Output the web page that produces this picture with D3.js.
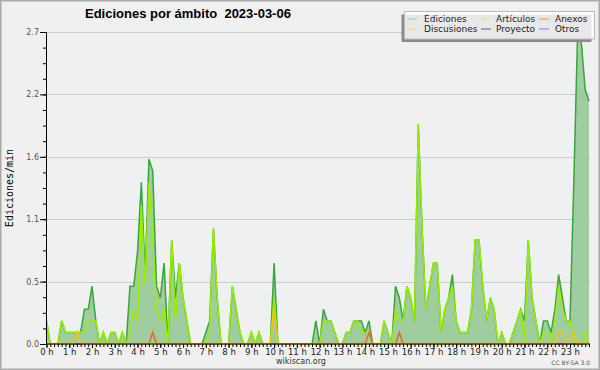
<!DOCTYPE html>
<html>
<head>
<meta charset="utf-8">
<script src="https://cdnjs.cloudflare.com/ajax/libs/d3/7.8.5/d3.min.js"></script>
<style>
  body { margin: 0; background: #f0f0f0; }
  svg { display: block; font-family: "DejaVu Sans", sans-serif; }
</style>
</head>
<body>
<svg id="chart" width="600" height="370"></svg>
<script>

// 10 minute slots, edits per minute
var hourLabels = ["0 h","1 h","2 h","3 h","4 h","5 h","6 h","7 h","8 h","9 h","10 h","11 h",
                  "12 h","13 h","14 h","15 h","16 h","17 h","18 h","19 h","20 h","21 h","22 h","23 h"];

var yTicks = [0, 0.54, 1.08, 1.62, 2.16, 2.7];

var ediciones = [
  0.2,0,0,0,0.2,0.1,0.1,0.1,0.1,0.1,0.3,0.3,
  0.5,0.2,0,0.1,0,0.1,0.1,0,0.1,0,0.5,0.5,
  0.8,1.4,0.6,1.6,1.5,0.5,0.4,0.7,0,0.9,0.4,0.7,
  0.4,0.2,0,0,0,0,0.1,0.2,1.0,0.4,0,0,
  0,0.5,0.3,0.1,0,0,0.1,0,0.1,0,0,0,
  0.7,0,0,0,0,0,0,0,0,0,0,0.2,
  0,0.3,0.2,0.2,0.1,0,0,0.1,0.1,0.2,0.2,0.2,
  0.1,0.2,0,0,0,0.2,0.1,0,0.5,0.4,0.2,0.5,
  0.4,0.2,1.9,1.0,0.3,0.5,0.7,0.7,0.1,0.3,0.4,0.6,
  0.2,0.1,0.1,0.1,0.3,0.9,0.9,0.5,0.2,0.4,0.3,0,
  0.1,0,0,0.1,0.2,0.3,0.2,0.9,0.4,0.2,0,0.2,
  0.2,0.1,0.3,0.6,0.4,0.2,0.2,1.4,2.7,2.6,2.2,2.1
];

var articulos = [
  0.2,0,0,0,0.2,0.1,0.1,0.1,0.1,0.1,0.1,0.2,
  0.2,0.2,0,0.1,0,0.1,0.1,0,0.1,0,0.1,0.3,
  0.2,1.2,0.5,1.4,0.9,0.3,0.2,0.3,0,0.9,0.2,0.7,
  0.4,0.2,0,0,0,0,0,0.1,1.0,0.4,0,0,
  0,0.5,0.3,0.1,0,0,0.1,0,0.1,0,0,0,
  0.4,0,0,0,0,0,0,0,0,0,0,0,
  0,0.2,0.2,0.2,0.1,0,0,0.1,0.1,0.2,0.2,0.1,
  0.1,0.1,0,0,0,0.2,0.1,0,0.3,0.2,0.2,0.5,
  0.4,0.2,1.9,1.0,0.3,0.5,0.7,0.7,0.1,0.3,0.4,0.5,
  0.2,0.1,0.1,0.1,0.3,0.9,0.9,0.5,0.2,0.4,0.3,0,
  0.1,0,0,0.1,0.2,0.3,0,0.9,0.4,0.2,0,0.1,
  0.1,0,0.2,0.5,0.3,0.2,0.2,0,0,0,0.1,0
];

var anexos = [
  0,0,0,0,0,0,0,0,0,0,0,0,
  0,0,0,0,0,0,0,0,0,0,0,0,
  0,0,0,0,0.1,0,0,0,0,0,0,0,
  0,0,0,0,0,0,0,0,0,0,0,0,
  0,0,0,0,0,0,0,0,0,0,0,0,
  0,0,0,0,0,0,0,0,0,0,0,0,
  0,0,0,0,0,0,0,0,0,0,0,0,
  0,0.1,0,0,0,0,0,0,0,0.1,0,0,
  0,0,0,0,0,0,0,0,0,0,0,0,
  0,0,0,0,0,0,0,0,0,0,0,0,
  0,0,0,0,0,0,0,0,0,0,0,0,
  0,0,0,0,0,0,0,0,0,0,0,0
];

var discusiones = [
  0,0,0,0,0,0,0,0,0.1,0,0,0,
  0,0,0,0,0,0,0,0,0,0,0,0,
  0,0,0,0,0,0,0,0,0,0,0,0,
  0,0,0,0,0,0,0,0,0,0,0,0,
  0,0,0,0,0,0,0,0,0,0,0,0,
  0.3,0,0,0,0,0,0,0,0,0,0,0,
  0,0,0,0,0,0,0,0,0,0,0,0,
  0,0,0,0,0,0,0,0,0,0,0,0,
  0,0,0,0,0,0,0,0,0,0,0,0,
  0,0,0,0,0,0,0,0,0,0,0,0,
  0,0,0,0,0,0,0,0,0,0,0,0,
  0,0,0,0.1,0.1,0,0,0.1,0,0,0,0
];

var legendNames = ["Ediciones", "Artículos", "Anexos", "Discusiones", "Proyecto", "Otros"];
var legendColors = ["#8fd48f", "#cdee66", "#f4906a", "#f8d768", "#606060", "#a86ef0"];

var svg = d3.select('#chart');

var plotLeft = 46, plotRight = 590, plotTop = 32, plotBottom = 344;

var x = d3.scaleLinear().domain([0, ediciones.length - 1]).range([plotLeft + 0.5, plotRight - 1]);
var y = d3.scaleLinear().domain([0, yTicks[yTicks.length - 1]]).range([plotBottom, plotTop]);

// frame
svg.append('rect')
  .attr('x', 0.75).attr('y', 0.75).attr('width', 598.5).attr('height', 368.5)
  .attr('fill', '#f0f0f0').attr('stroke', '#a8a8a8').attr('stroke-width', 1.5);

svg.append('rect')
  .attr('x', plotLeft).attr('y', plotTop).attr('width', plotRight - plotLeft).attr('height', plotBottom - plotTop)
  .attr('fill', '#eff0f2');

// grid
svg.append('g').selectAll('line')
  .data(yTicks.slice(1))
  .enter().append('line')
  .attr('x1', plotLeft).attr('x2', plotRight)
  .attr('y1', function(d){ return Math.round(y(d)) + 0.5; })
  .attr('y2', function(d){ return Math.round(y(d)) + 0.5; })
  .attr('stroke', '#cccccc');

// data
var area = d3.area()
  .x(function(d, i){ return x(i); })
  .y0(y(0))
  .y1(function(d){ return y(d); });

var line = d3.line()
  .x(function(d, i){ return x(i); })
  .y(function(d){ return y(d); });

var plot = svg.append('g');

plot.append('path').datum(ediciones)
  .attr('d', area).attr('fill', '#9fcd9f');

var drawn = [
  {values: ediciones, color: '#3aa63a'},
  {values: articulos, color: '#99ee00'},
  {values: anexos, color: '#ee6622'},
  {values: discusiones, color: '#f5c400'}
];

drawn.forEach(function(s){
  plot.append('path').datum(s.values)
    .attr('d', line)
    .attr('fill', 'none')
    .attr('stroke', s.color)
    .attr('stroke-width', 1.5)
    .attr('stroke-linejoin', 'miter');
});

// axes
var minorY = d3.range(0, 21).map(function(k){ return k * yTicks[1] / 4; });

svg.append('g')
  .attr('transform', 'translate(' + plotLeft + ',0)')
  .call(d3.axisLeft(y).tickValues(minorY).tickSize(3).tickSizeOuter(0).tickFormat(''));

var yAxis = svg.append('g')
  .attr('transform', 'translate(' + plotLeft + ',0)')
  .call(d3.axisLeft(y).tickValues(yTicks).tickSize(6).tickSizeOuter(0).tickPadding(1)
    .tickFormat(d3.format('.1f')));
yAxis.selectAll('text').attr('font-size', 8).attr('fill', '#555').attr('font-family', '"DejaVu Sans"');

svg.append('g')
  .attr('transform', 'translate(0,' + plotBottom + ')')
  .call(d3.axisBottom(x).tickValues(d3.range(0, ediciones.length)).tickSize(3).tickSizeOuter(0).tickFormat(''))
  .select('.domain').attr('d', 'M' + plotLeft + ',0H' + plotRight);

var hourIdx = hourLabels.map(function(d, i){ return i * 6; });
var xAxis = svg.append('g')
  .attr('transform', 'translate(0,' + plotBottom + ')')
  .call(d3.axisBottom(x).tickValues(hourIdx).tickSize(4).tickSizeOuter(0).tickPadding(1)
    .tickFormat(function(d, i){ return hourLabels[i]; }));
xAxis.select('.domain').remove();
xAxis.selectAll('text').attr('font-size', 8.5).attr('fill', '#222').attr('font-family', '"DejaVu Sans"');

// texts
svg.append('text')
  .attr('x', 85).attr('y', 18)
  .style('white-space', 'pre')
  .attr('font-family', '"Liberation Sans", Arial, sans-serif')
  .attr('font-weight', 'bold').attr('font-size', 13)
  .text('Ediciones por ámbito  2023-03-06');

svg.append('text')
  .attr('transform', 'translate(13,188) rotate(-90)')
  .attr('text-anchor', 'middle')
  .attr('font-family', '"DejaVu Sans Mono", monospace')
  .attr('font-size', 10)
  .text('Ediciones/min');

svg.append('text')
  .attr('x', 301).attr('y', 364)
  .attr('text-anchor', 'middle')
  .attr('font-size', 8).attr('fill', '#333')
  .text('wikiscan.org');

svg.append('text')
  .attr('x', 590).attr('y', 365)
  .attr('text-anchor', 'end')
  .attr('font-size', 6).attr('fill', '#555')
  .text('CC BY-SA 3.0');

// legend
var lg = svg.append('g');
lg.append('rect')
  .attr('x', 401.5).attr('y', 14.5).attr('width', 190).attr('height', 27.5)
  .attr('fill', '#8a8a8a');
lg.append('rect')
  .attr('x', 404.5).attr('y', 11.5).attr('width', 190).attr('height', 27.5)
  .attr('fill', '#ffffff').attr('fill-opacity', 0.8).attr('stroke', '#bbbbbb');

var colX = [407, 481, 539];
var textX = [424, 496, 555];
legendNames.forEach(function(name, i){
  var c = i % 3, r = Math.floor(i / 3);
  var ly = 19 + r * 10;
  lg.append('line')
    .attr('x1', colX[c]).attr('x2', colX[c] + 10)
    .attr('y1', ly).attr('y2', ly)
    .attr('stroke', legendColors[i]).attr('stroke-width', 1);
  lg.append('text')
    .attr('x', textX[c]).attr('y', ly + 3)
    .attr('font-size', 9).attr('fill', '#222')
    .text(name);
});

</script>
</body>
</html>
